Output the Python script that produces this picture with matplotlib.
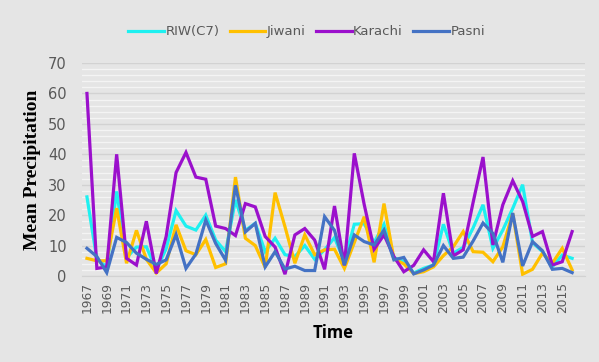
import matplotlib
matplotlib.use("Agg")
import matplotlib.pyplot as plt
from matplotlib.ticker import MultipleLocator

years = list(range(1967, 2017))

riw = [26, 5.5, 3, 27.8, 6, 9.5, 9.6, 2, 9, 21.5,
       16.4, 15.1, 20, 11.8, 8, 25, 15, 17.3, 8, 12.4,
       7, 6.4, 10, 5.5, 8.6, 12.6, 4.8, 17, 17.2, 11,
       17, 6, 4.8, 1, 2.5, 3.6, 17, 7.5, 9.4, 15.8,
       23.4, 9.1, 15.1, 22.2, 30, 11, 8, 3, 6.9, 5.8]

jiwani = [5.8, 5, 5, 22.3, 4.2, 15, 5.5, 1, 4, 16.8,
          8.3, 7, 12, 2.8, 4, 32.5, 12.4, 10, 2.8, 27.4,
          16.2, 4.2, 13.5, 7, 8.6, 8.8, 2.5, 11, 19.5, 4.5,
          23.8, 5.6, 4, 0.8, 1.4, 3, 6.7, 9.6, 14.6, 8,
          7.8, 4.7, 9.6, 20.6, 0.6, 2.2, 7.5, 4.2, 9.1, 2]

karachi = [60, 2.5, 3, 40, 5.8, 3.6, 18, 0.8, 13, 34,
           40.6, 32.5, 31.8, 16.4, 15.6, 13.3, 23.8, 22.7, 13, 9.5,
           0.6, 13.5, 15.6, 11.8, 2.2, 23, 3.5, 40.3, 23.5, 8.8,
           13.5, 6.4, 1.4, 3.5, 8.6, 4.7, 27.2, 6.6, 8.6, 24.2,
           39.1, 10.2, 23.4, 31.3, 24.5, 13, 14.6, 3.6, 4.7, 14.6]

pasni = [9.1, 6.4, 1.1, 12.7, 11, 7.5, 5.5, 3.8, 5.3, 13.6,
         2.5, 7.2, 18.4, 10.7, 5.2, 29.8, 14.5, 17.3, 3, 8,
         2.3, 3.2, 1.8, 1.8, 19.5, 15, 3.6, 13.5, 11.3, 10.2,
         15.1, 5.3, 6.1, 0.7, 2, 3.6, 10, 5.8, 6.2, 11.5,
         17.4, 14, 4.5, 20.7, 3.3, 11.3, 8.3, 2.2, 2.5, 1.1]

series_names = ["RIW(C7)", "Jiwani", "Karachi", "Pasni"]
series_vals = [riw, jiwani, karachi, pasni]
colors = ["#1EF0F0", "#FFC000", "#9B10CC", "#4472C4"]

bg = "#E5E5E5"
fig = plt.figure(figsize=(5.99, 3.62), dpi=100, facecolor=bg)
ax = fig.add_axes([82/599, 1 - 276/362, (585 - 82)/599, (276 - 63)/362])
ax.set_facecolor(bg)

ax.set_ylim(0, 70)
ax.set_xlim(1966.5, 2017.3)
ax.yaxis.set_major_locator(MultipleLocator(10))
ax.yaxis.set_minor_locator(MultipleLocator(2))
ax.grid(which="minor", axis="y", color="#F4F4F4", linewidth=1.0, zorder=0)
ax.grid(which="major", axis="y", color="#D2D2D2", linewidth=1.0, zorder=0)
ax.set_axisbelow(True)

for name, vals, c in zip(series_names, series_vals, colors):
    ax.plot(years, vals, color=c, linewidth=2.3, label=name,
            solid_joinstyle="miter", zorder=3)

for s in ax.spines.values():
    s.set_visible(False)
ax.spines["bottom"].set_visible(True)
ax.spines["bottom"].set_color("#D2D2D2")

ax.set_xticks(years[::2])
ax.set_xticklabels([str(y) for y in years[::2]], rotation=90,
                   fontsize=8.8, color="#595959")
ax.tick_params(axis="x", length=0, pad=4)
ax.tick_params(axis="y", which="both", length=0, labelsize=10.5,
               labelcolor="#595959", pad=11)

ax.set_ylabel("Mean Precipitation", family="Liberation Serif",
              fontweight="bold", fontsize=14, color="black", labelpad=5)
ax.set_xlabel("Time", fontweight="bold", fontsize=12, color="black",
              labelpad=8, family="Open Sans")

leg = fig.legend(loc="center", bbox_to_anchor=(0.512, 0.912), ncol=4,
                 frameon=False, fontsize=9.5, handlelength=2.7,
                 handletextpad=0.1, columnspacing=0.8)
for t in leg.get_texts():
    t.set_color("#595959")

fig.savefig("out.png", dpi=100, facecolor=bg)
